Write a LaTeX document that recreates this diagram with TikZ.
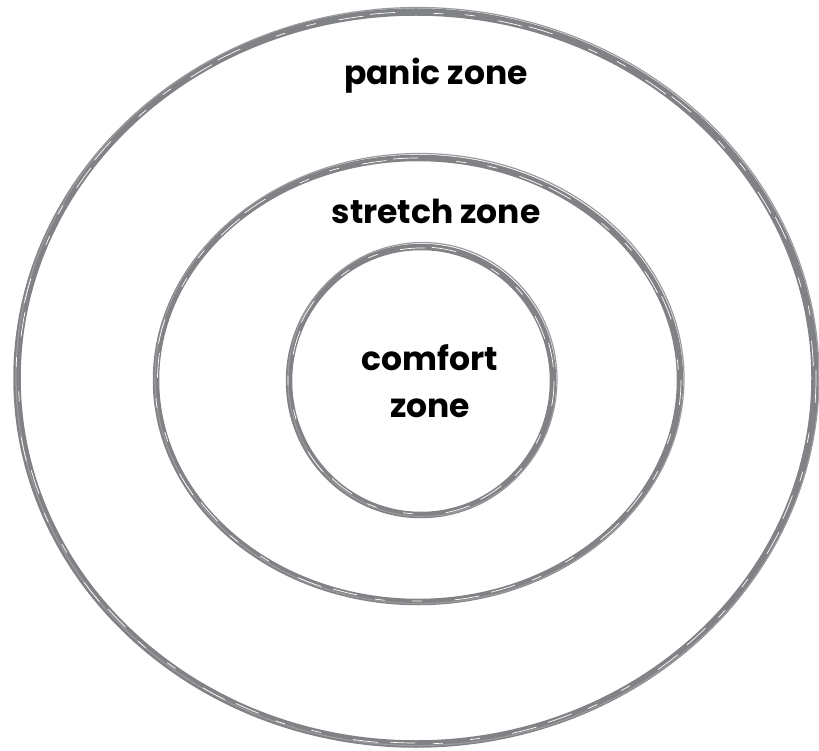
\documentclass[tikz,border=0pt]{standalone}
\usepackage{fontspec}
\setmainfont{Poppins}
\usepackage{tikz}

\definecolor{ringgray}{HTML}{808285}

\begin{document}
\begin{tikzpicture}[x=1pt,y=-1pt,
  ring/.style={draw=ringgray,line width=6.5pt},
  scratch/.style={draw=ringgray!80,line width=1.2pt},
  streak/.style={draw=white,line width=0.7pt,dash pattern=on 25pt off 70pt on 10pt off 55pt},
  zonelabel/.style={font=\fontsize{33}{47}\selectfont\bfseries,align=center,inner sep=0pt}]
\useasboundingbox (0,0) rectangle (819,751);
% rings (outer, middle, inner), each with a few loose strokes
\draw[ring,line width=7.5pt] (416,378) ellipse [x radius=399,y radius=366];
\draw[ring] (418,380) ellipse [x radius=262,y radius=222];
\draw[ring] (421,381) ellipse [x radius=132,y radius=134];
\foreach \cx/\cy/\rx/\ry in {416/378/399/366,418/380/262/222,421/381/132/134}{
  \draw[scratch] (\cx+1.5,\cy-1.5) ellipse [x radius=\rx+2.5,y radius=\ry+3];
  \draw[streak] (\cx,\cy) ellipse [x radius=\rx+1,y radius=\ry];
  \draw[streak,dash phase=40pt] (\cx,\cy) ellipse [x radius=\rx-1.5,y radius=\ry-1];
}
% labels
\node[zonelabel] (panic) at (436,76) {panic zone};
\node[zonelabel] (stretch) at (436,211) {stretch zone};
\node[zonelabel] (comfort) at (430,381) {comfort\\ zone};
\end{tikzpicture}
\end{document}
